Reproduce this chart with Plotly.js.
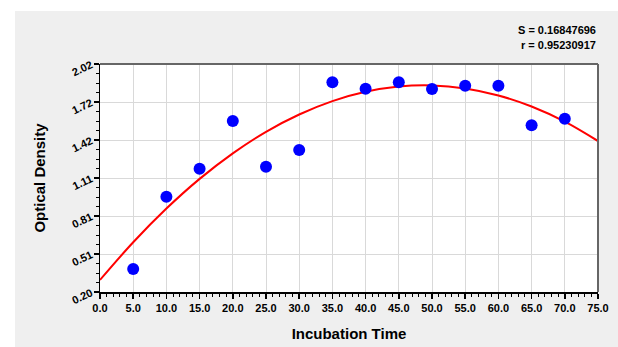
<!DOCTYPE html>
<html>
<head>
<meta charset="utf-8">
<script src="https://cdn.plot.ly/plotly-3.0.1.min.js"></script>
<style>html,body{margin:0;padding:0;background:#fff;}#chart{width:618px;height:347px;}</style>
</head>
<body>
<div id="chart"></div>
<script>
const incubationTime = [5, 10, 15, 20, 25, 30, 35, 40, 45, 50, 55, 60, 65, 70];
const opticalDensity = [0.384, 0.961, 1.184, 1.565, 1.200, 1.334, 1.874, 1.823, 1.874, 1.820, 1.847, 1.847, 1.531, 1.583];

// Fitted curve at every 5 units
const fitTime = [0, 5, 10, 15, 20, 25, 30, 35, 40, 45, 50, 55, 60, 65, 70, 75];
const fitDensity = [0.296, 0.597, 0.866, 1.103, 1.307, 1.479, 1.617, 1.724, 1.798, 1.840, 1.849, 1.825, 1.769, 1.681, 1.560, 1.405];

// Axis ticks
const xTickVals = [0, 5, 10, 15, 20, 25, 30, 35, 40, 45, 50, 55, 60, 65, 70, 75];
const xTickText = ['0.0','5.0','10.0','15.0','20.0','25.0','30.0','35.0','40.0','45.0','50.0','55.0','60.0','65.0','70.0','75.0'];
const yTickVals = [0.20, 0.50333, 0.80667, 1.11, 1.41333, 1.71667, 2.02];
const yTickText = ['0.20','0.51','0.81','1.11','1.42','1.72','2.02'];

const statLines = ['S = 0.16847696', 'r = 0.95230917'];

const FONT = 'Arial, "Liberation Sans", sans-serif';

const traces = [
  {
    x: fitTime, y: fitDensity, type: 'scatter', mode: 'lines',
    line: {color: '#ff0000', width: 2, shape: 'spline'},
    hoverinfo: 'skip', cliponaxis: true
  },
  {
    x: incubationTime, y: opticalDensity, type: 'scatter', mode: 'markers',
    marker: {color: '#0000ff', size: 12, line: {width: 0}}
  }
];

const layout = {
  width: 618, height: 347,
  paper_bgcolor: '#efefef', plot_bgcolor: '#ffffff',
  margin: {l: 100, r: 20, t: 64, b: 55},
  showlegend: false,
  font: {family: FONT, size: 11, color: '#000'},
  xaxis: {
    range: [0, 75], tickmode: 'array', tickvals: xTickVals, ticktext: xTickText,
    showline: true, linecolor: '#000', linewidth: 1.5,
    ticks: 'outside', ticklen: 5, tickcolor: '#000', tickwidth: 1.5,
    minor: {dtick: 1, tick0: 0, ticks: 'outside', ticklen: 3, tickcolor: '#000', tickwidth: 1, showgrid: false},
    showgrid: true, gridcolor: '#d9d9d9', gridwidth: 1, zeroline: false,
    tickfont: {family: FONT, size: 11, weight: 'bold', color: '#000'},
    title: {text: 'Incubation Time', font: {family: FONT, size: 15, weight: 'bold', color: '#000'}, standoff: 16}
  },
  yaxis: {
    range: [0.20, 2.02], tickmode: 'array', tickvals: yTickVals, ticktext: yTickText,
    showline: true, linecolor: '#000', linewidth: 1.5,
    ticks: 'outside', ticklen: 5, tickcolor: '#000', tickwidth: 1.5,
    minor: {tick0: 0.2, dtick: 0.0758333, ticks: 'outside', ticklen: 3, tickcolor: '#000', tickwidth: 1, showgrid: false},
    showgrid: true, gridcolor: '#d9d9d9', gridwidth: 1, zeroline: false,
    tickangle: -25,
    tickfont: {family: FONT, size: 11, weight: 'bold', color: '#000'},
    title: {text: 'Optical Density', font: {family: FONT, size: 15, weight: 'bold', color: '#000'}, standoff: 20}
  },
  shapes: [
    // white strips outside the grey panel
    {type: 'rect', xref: 'paper', yref: 'paper', x0: -0.21, x1: 1.05, y0: 1.2325, y1: 1.3, fillcolor: '#ffffff', line: {width: 0}, layer: 'below'},
    {type: 'rect', xref: 'paper', yref: 'paper', x0: -0.21, x1: -0.1707, y0: -0.3, y1: 1.3, fillcolor: '#ffffff', line: {width: 0}, layer: 'below'},
    // grey frame top and right
    {type: 'line', xref: 'paper', yref: 'paper', x0: 0, x1: 1, y0: 1, y1: 1, line: {color: '#666666', width: 2}},
    {type: 'line', xref: 'paper', yref: 'paper', x0: 1, x1: 1, y0: 0, y1: 1, line: {color: '#666666', width: 2}}
  ],
  annotations: [
    {xref: 'paper', yref: 'paper', x: 1, y: 1.149, xanchor: 'right', yanchor: 'middle', showarrow: false,
     text: statLines[0], font: {family: FONT, size: 11, weight: 'bold', color: '#000'}},
    {xref: 'paper', yref: 'paper', x: 1, y: 1.083, xanchor: 'right', yanchor: 'middle', showarrow: false,
     text: statLines[1], font: {family: FONT, size: 11, weight: 'bold', color: '#000'}}
  ]
};

Plotly.newPlot('chart', traces, layout, {displayModeBar: false, staticPlot: true});
</script>
</body>
</html>
